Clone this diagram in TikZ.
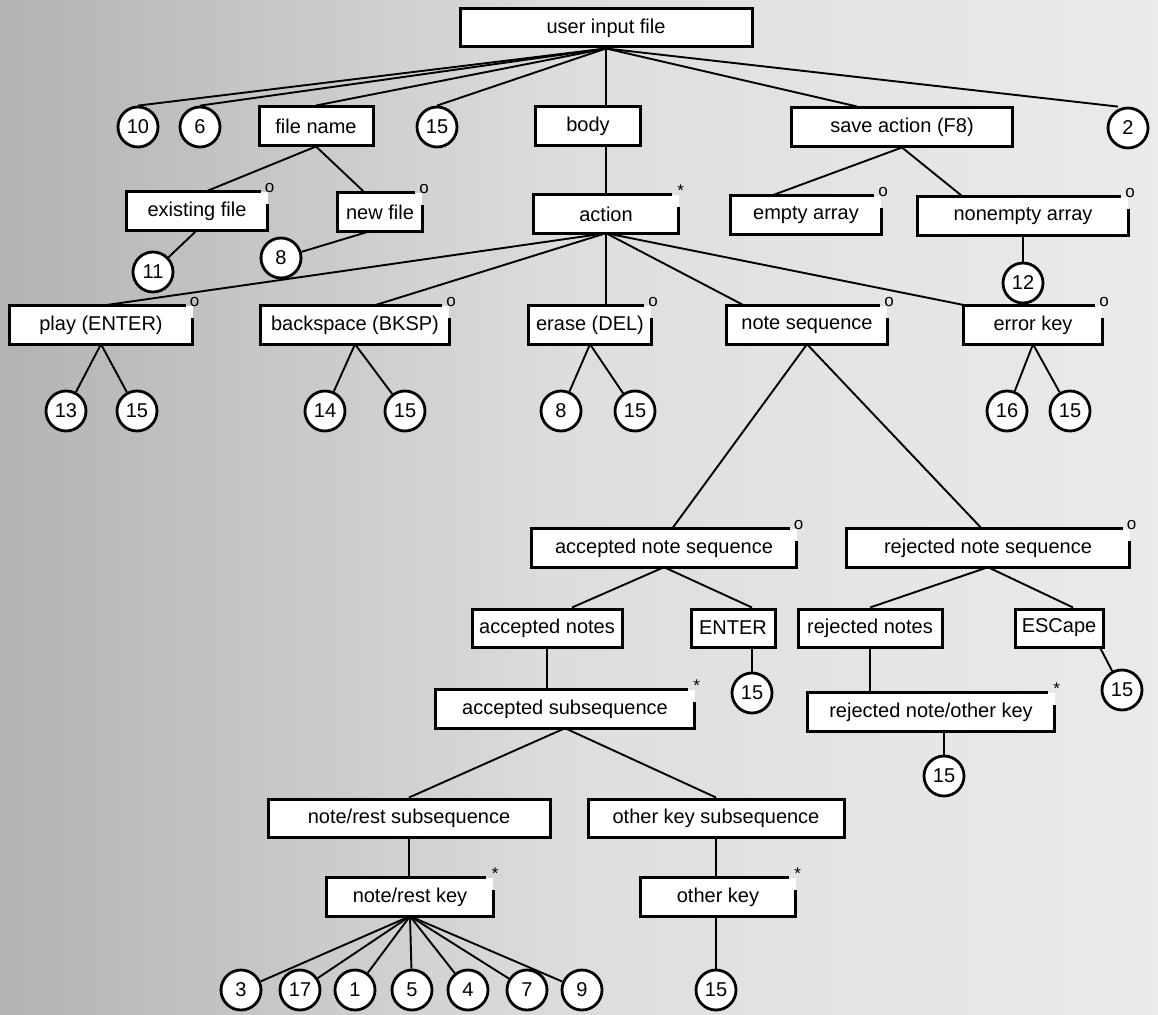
\documentclass[tikz,border=0pt]{standalone}
\usepackage{fontspec}
\setmainfont{Liberation Sans}
\tikzset{
  jbox/.style={fill=white, minimum height=38pt, inner sep=0pt, font=\fontsize{20}{22}\selectfont},
  plainbox/.style={jbox, draw, line width=3pt},
  leaf/.style={circle, draw, fill=white, line width=2.8pt, minimum size=40pt, inner sep=0pt, font=\fontsize{20}{22}\selectfont},
  link/.style={line width=1.9pt},
}
% border of a box that carries a mark at its top right corner
\newcommand{\jmark}[2]{%
  \draw[line width=3pt] ([xshift=-7pt]#1.north east) -- (#1.north west) -- (#1.south west)
    -- (#1.south east) -- ([yshift=-12pt]#1.north east);
  \node[inner sep=0pt, font=\fontsize{17}{17}\selectfont] at ([xshift=2pt,yshift=4pt]#1.north east) {#2};}
\begin{document}
\begin{tikzpicture}[x=1pt, y=-1pt]
  \useasboundingbox (0,0) rectangle (1158,1014);
  \shade[left color=black!30, right color=black!8, middle color=black!13] (0,0) rectangle (1158,1014);

  % top level
  \node[plainbox, minimum width=292pt] (top) at (606,28) {user input file};
  \node[leaf] (c10) at (138,127) {10};
  \node[leaf] (c6) at (200,127) {6};
  \node[plainbox, minimum width=114pt] (fname) at (316,126) {file name};
  \node[leaf] (c15a) at (437,127) {15};
  \node[plainbox, minimum width=105pt] (body) at (588,126) {body};
  \node[plainbox, minimum width=221pt] (save) at (902,127) {save action (F8)};
  \node[leaf] (c2) at (1128,128) {2};

  % second level
  \node[jbox, minimum width=141pt] (exist) at (197,211) {existing file};
  \node[jbox, minimum width=84pt] (newf) at (380,212) {new file};
  \node[jbox, minimum width=145pt] (action) at (606,214) {action};
  \node[jbox, minimum width=150pt] (empty) at (806,215) {empty array};
  \node[jbox, minimum width=210pt] (nonempty) at (1023,216) {nonempty array};
  \jmark{exist}{o} \jmark{newf}{o} \jmark{action}{*} \jmark{empty}{o} \jmark{nonempty}{o}
  \node[leaf] (c11) at (153,272) {11};
  \node[leaf] (c8a) at (281,258) {8};
  \node[leaf] (c12) at (1023,283) {12};

  % actions
  \node[jbox, minimum width=183pt] (play) at (101,325) {play (ENTER)};
  \node[jbox, minimum width=188pt] (bksp) at (355,325) {backspace (BKSP)};
  \node[jbox, minimum width=122pt] (erase) at (590,325) {erase (DEL)};
  \node[jbox, minimum width=160pt] (noteseq) at (807,325) {note sequence};
  \node[jbox, minimum width=138pt] (errkey) at (1033,325) {error key};
  \jmark{play}{o} \jmark{bksp}{o} \jmark{erase}{o} \jmark{noteseq}{o} \jmark{errkey}{o}
  \node[leaf] (c13) at (66,411) {13};
  \node[leaf] (c15b) at (137,411) {15};
  \node[leaf] (c14) at (325,411) {14};
  \node[leaf] (c15c) at (405,411) {15};
  \node[leaf] (c8b) at (561,411) {8};
  \node[leaf] (c15d) at (635,411) {15};
  \node[leaf] (c16) at (1007,411) {16};
  \node[leaf] (c15e) at (1070,411) {15};

  % note sequences
  \node[jbox, minimum width=265pt] (accseq) at (664,548) {accepted note sequence};
  \node[jbox, minimum width=283pt] (rejseq) at (988,548) {rejected note sequence};
  \jmark{accseq}{o} \jmark{rejseq}{o}
  \node[plainbox, minimum width=150pt] (accn) at (547,628) {accepted notes};
  \node[plainbox, minimum width=84pt] (enter) at (733,628) {ENTER};
  \node[plainbox, minimum width=144pt] (rejn) at (870,628) {rejected notes};
  \node[plainbox, minimum width=88pt] (esc) at (1059,628) {ESCape};
  \node[leaf] (c15f) at (752,693) {15};
  \node[leaf] (c15g) at (1122,690) {15};
  \node[jbox, minimum width=259pt] (accsub) at (565,709) {accepted subsequence};
  \node[jbox, minimum width=247pt] (rejnk) at (931,712) {rejected note/other key};
  \jmark{accsub}{*} \jmark{rejnk}{*}
  \node[leaf] (c15h) at (944,776) {15};

  % subsequences
  \node[plainbox, minimum width=282pt] (nrsub) at (409,818) {note/rest subsequence};
  \node[plainbox, minimum width=256pt] (oksub) at (716,818) {other key subsequence};
  \node[jbox, minimum width=166pt] (nrkey) at (410,897) {note/rest key};
  \node[jbox, minimum width=155pt] (okey) at (718,897) {other key};
  \jmark{nrkey}{*} \jmark{okey}{*}
  \foreach \n/\x in {3/241, 17/300, 1/355, 5/412, 4/468, 7/527, 9/582}
    \node[leaf] (k\n) at (\x,990) {\n};
  \node[leaf] (c15i) at (716,990) {15};

  % connectors
  \foreach \c in {c10, c6, c15a}
    \draw[link] (top.south) -- (\c.north);
  \draw[link] (top.south) -- ([xshift=-10pt]c2.north);
  \draw[link] (top.south) -- (fname.north);
  \draw[link] (top.south) -- (top.south |- body.north);
  \draw[link] (top.south) -- ([xshift=-45pt]save.north);
  \draw[link] (fname.south) -- ([xshift=8pt]exist.north);
  \draw[link] (fname.south) -- ([xshift=-15pt]newf.north);
  \draw[link] (exist.south) -- (c11);
  \draw[link] ([xshift=-10pt]newf.south) -- (c8a);
  \draw[link] (save.south) -- ([xshift=-35pt]empty.north);
  \draw[link] (save.south) -- ([xshift=-60pt]nonempty.north);
  \draw[link] (nonempty.south) -- (c12);
  \draw[link] (body.south -| action.north) -- (action.north);
  \draw[link] (action.south) -- (play.north);
  \draw[link] (action.south) -- ([xshift=18pt]bksp.north);
  \draw[link] (action.south) -- (action.south |- erase.north);
  \draw[link] (action.south) -- ([xshift=18pt]noteseq.north west);
  \draw[link] (action.south) -- ([xshift=4pt]errkey.north west);
  \draw[link] (play.south) -- (c13);
  \draw[link] (play.south) -- (c15b);
  \draw[link] (bksp.south) -- (c14);
  \draw[link] (bksp.south) -- (c15c);
  \draw[link] (erase.south) -- (c8b);
  \draw[link] (erase.south) -- (c15d);
  \draw[link] (errkey.south) -- (c16);
  \draw[link] (errkey.south) -- (c15e);
  \draw[link] (noteseq.south) -- ([xshift=8pt]accseq.north);
  \draw[link] (noteseq.south) -- ([xshift=-6pt]rejseq.north);
  \draw[link] (accseq.south) -- ([xshift=25pt]accn.north);
  \draw[link] (accseq.south) -- ([xshift=19pt]enter.north);
  \draw[link] (rejseq.south) -- (rejn.north);
  \draw[link] (rejseq.south) -- ([xshift=14pt]esc.north);
  \draw[link] (accn.south) -- (accn.south |- accsub.north);
  \draw[link] (enter.south -| c15f) -- (c15f);
  \draw[link] (rejn.south) -- (rejn.south |- rejnk.north);
  \draw[link] ([xshift=-4pt]esc.south east) -- (c15g);
  \draw[link] (rejnk.south -| c15h) -- (c15h);
  \draw[link] (accsub.south) -- (nrsub.north);
  \draw[link] (accsub.south) -- (oksub.north);
  \draw[link] (nrsub.south) -- (nrsub.south |- nrkey.north);
  \draw[link] (oksub.south) -- (oksub.south |- okey.north);
  \foreach \n in {3, 17, 1, 5, 4, 7, 9}
    \draw[link] (nrkey.south) -- (k\n);
  \draw[link] (okey.south -| c15i) -- (c15i);
\end{tikzpicture}
\end{document}
